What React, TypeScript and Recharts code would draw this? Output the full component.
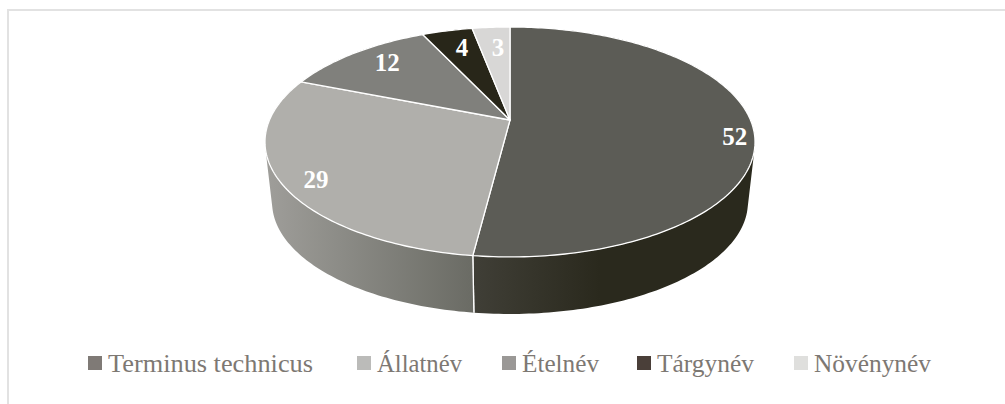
import React from "react";
import { PieChart, Pie, Legend } from "recharts";

const categories = ["Terminus technicus", "Állatnév", "Ételnév", "Tárgynév", "Növénynév"];
const values = [52, 29, 12, 4, 3];
const legendColors = ["#7F7A76", "#BBBBB9", "#9A9896", "#4A3F39", "#DFDFDD"];
const topColors = ["#5C5C56", "#B0AFAB", "#80807C", "#282619", "#D8D7D6"];
const wallStart = ["#2A291D", "#6A6B64", "#5A5A56", "#1A1910", "#999999"];
const wallEnd = ["#403F37", "#9F9E9A", "#6A6A66", "#1A1910", "#999999"];
const labelRadius = [0.926, 0.859, 0.77, 0.732, 0.59];
const labelShift = [10, 7, -4, -4, -14];
const legendTextWidths = [205, 85, 77, 97, 117];
const legendItemWidths = [269, 145, 135, 157, 138];

const data = categories.map((name, i) => ({ name, value: values[i], fill: legendColors[i] }));

const KP = 0.191;
const WIDTH_K = 0.9816;
const HEIGHT_K = 0.4522;
const DEPTH_Y = 61;
const DEPTH_SCALE = 0.971;

type Pt = { x: number; y: number };

function project(angle: number, frac: number, cx: number, cy: number, R: number, bottom = false): Pt {
  const a = (angle * Math.PI) / 180;
  const c = Math.cos(a) * frac;
  const s = Math.sin(a) * frac;
  const d = 1 + KP * s;
  const f = bottom ? DEPTH_SCALE : 1;
  return {
    x: cx + (R * WIDTH_K * c * f) / d,
    y: cy + (bottom ? DEPTH_Y : 0) - (R * HEIGHT_K * s * f) / d,
  };
}

function arc(start: number, end: number, cx: number, cy: number, R: number, bottom = false) {
  const n = Math.max(2, Math.ceil(Math.abs(end - start)));
  const pts: Pt[] = [];
  for (let i = 0; i <= n; i++) {
    pts.push(project(start + ((end - start) * i) / n, 1, cx, cy, R, bottom));
  }
  return pts;
}

const toD = (pts: Pt[]) => pts.map((p, i) => `${i ? "L" : "M"}${p.x.toFixed(2)} ${p.y.toFixed(2)}`).join(" ");

function signedArea(pts: Pt[]) {
  let a = 0;
  pts.forEach((p, i) => {
    const q = pts[(i + 1) % pts.length];
    a += p.x * q.y - q.x * p.y;
  });
  return a;
}

function WallShape(props: any) {
  const { cx, cy, outerRadius, startAngle, endAngle, index } = props;
  const top = arc(startAngle, endAngle, cx, cy, outerRadius);
  const bot = arc(startAngle, endAngle, cx, cy, outerRadius, true);
  const quads: string[] = [];
  for (let i = 0; i < top.length - 1; i++) {
    const quad = [top[i], top[i + 1], bot[i + 1], bot[i]];
    quads.push(`${toD(signedArea(quad) < 0 ? quad.reverse() : quad)} Z`);
  }
  const xs = [...top, ...bot].map((p) => p.x);
  const id = `wall-${index}`;
  const reversed = index === 0;
  return (
    <g>
      <defs>
        <linearGradient
          id={id}
          gradientUnits="userSpaceOnUse"
          x1={reversed ? Math.max(...xs) : Math.min(...xs)}
          x2={reversed ? Math.min(...xs) : Math.max(...xs)}
          y1={0}
          y2={0}
        >
          <stop offset={reversed ? "0.55" : "0"} stopColor={reversed ? wallStart[index] : wallEnd[index]} />
          <stop offset="1" stopColor={reversed ? wallEnd[index] : wallStart[index]} />
        </linearGradient>
      </defs>
      <path d={quads.join(" ")} fill={`url(#${id})`} fillRule="nonzero" />
      <path d={toD([top[0], bot[0]])} stroke="#fff" strokeWidth={1.3} fill="none" />
      <path d={toD([top[top.length - 1], bot[bot.length - 1]])} stroke="#fff" strokeWidth={1.3} fill="none" />
    </g>
  );
}

function TopShape(props: any) {
  const { cx, cy, outerRadius, startAngle, endAngle, index } = props;
  const pts = [{ x: cx, y: cy }, ...arc(startAngle, endAngle, cx, cy, outerRadius)];
  return <path d={`${toD(pts)} Z`} fill={topColors[index]} stroke="#fff" strokeWidth={1.3} strokeLinejoin="round" />;
}

function renderLabel(props: any) {
  const { cx, cy, outerRadius, midAngle, index, value } = props;
  const p = project(midAngle, labelRadius[index], cx, cy, outerRadius);
  return (
    <text
      x={p.x}
      y={p.y + labelShift[index]}
      fill="#fff"
      textAnchor="middle"
      dominantBaseline="central"
      fontFamily="'Liberation Serif', serif"
      fontWeight="bold"
      fontSize={25}
    >
      {value}
    </text>
  );
}

function renderLegend(props: any) {
  const seen = new Set<string>();
  const items = (props.payload || []).filter((it: any) => {
    if (seen.has(it.value)) return false;
    seen.add(it.value);
    return true;
  });
  return (
    <div style={{ display: "flex" }}>
      {items.map((item: any, i: number) => (
        <svg key={item.value} width={legendItemWidths[i]} height={34} style={{ display: "block", flex: "none" }}>
          <rect x={0} y={6} width={14} height={14} fill={item.color} />
          <text
            x={20}
            y={22}
            fill="#7D7873"
            fontFamily="'Liberation Serif', serif"
            fontSize={25}
            textLength={legendTextWidths[i]}
            lengthAdjust="spacingAndGlyphs"
          >
            {item.value}
          </text>
        </svg>
      ))}
    </div>
  );
}

export default function App() {
  return (
    <div style={{ position: "absolute", left: 0, top: 0, width: 1005, height: 404, overflow: "hidden" }}>
      <div
        style={{
          position: "absolute",
          left: 7,
          top: 9,
          right: 0,
          bottom: 0,
          borderLeft: "2px solid #E2E2E2",
          borderTop: "2px solid #E2E2E2",
        }}
      />
      <PieChart
        width={1005}
        height={404}
        margin={{ top: 0, right: 0, bottom: 0, left: 0 }}
        style={{ position: "absolute", left: 0, top: 0 }}
      >
        <Pie
          data={data}
          dataKey="value"
          nameKey="name"
          cx={510}
          cy={120}
          outerRadius={245}
          startAngle={90}
          endAngle={-270}
          isAnimationActive={false}
          legendType="none"
          shape={WallShape}
        />
        <Pie
          data={data}
          dataKey="value"
          nameKey="name"
          cx={510}
          cy={120}
          outerRadius={245}
          startAngle={90}
          endAngle={-270}
          isAnimationActive={false}
          shape={TopShape}
          label={renderLabel}
          labelLine={false}
        />
        <Legend
          content={renderLegend}
          itemSorter={null}
          wrapperStyle={{ left: 88, top: 350, width: 870, bottom: "auto" }}
        />
      </PieChart>
    </div>
  );
}
